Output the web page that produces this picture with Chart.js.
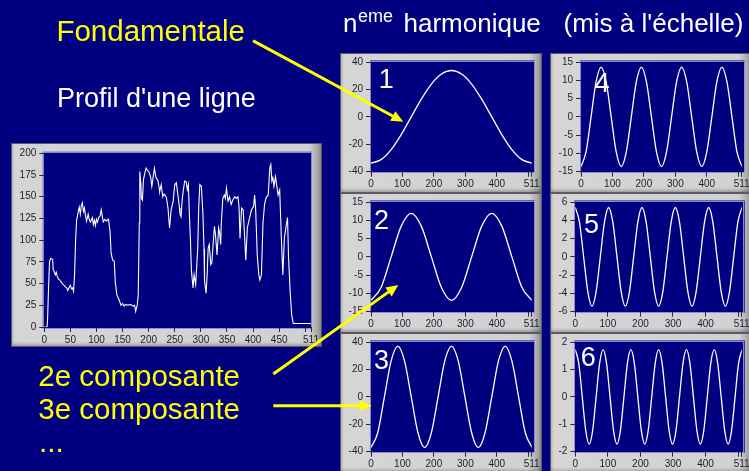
<!DOCTYPE html>
<html>
<head>
<meta charset="utf-8">
<script src="https://cdn.jsdelivr.net/npm/chart.js"></script>
<style>
  html, body { margin: 0; padding: 0; }
  body {
    width: 749px; height: 471px; overflow: hidden; position: relative;
    background: #000080;
    font-family: "Liberation Sans", Arial, sans-serif;
  }
  .frame {
    position: absolute; box-sizing: border-box;
    border: 1px solid #5a5a68;
    background: linear-gradient(to right, #bcbcbc 0px, #d5d5d5 3px, #d1d1d1 calc(100% - 12px), #ababab calc(100% - 4px), #8a8a8a 100%);
    box-shadow: inset 0 -3px 3px -1px rgba(0,0,0,0.25);
  }
  .frame canvas { position: absolute; left: -1px; top: -1px; }
  #overlay { position: absolute; left: 0; top: 0; z-index: 5; pointer-events: none; }
</style>
</head>
<body>

<div class="frame" id="fProfile"><canvas id="cProfile"></canvas></div>
<div class="frame" id="fH1"><canvas id="cH1"></canvas></div>
<div class="frame" id="fH2"><canvas id="cH2"></canvas></div>
<div class="frame" id="fH3"><canvas id="cH3"></canvas></div>
<div class="frame" id="fH4"><canvas id="cH4"></canvas></div>
<div class="frame" id="fH5"><canvas id="cH5"></canvas></div>
<div class="frame" id="fH6"><canvas id="cH6"></canvas></div>

<svg id="overlay" width="749" height="471" xmlns="http://www.w3.org/2000/svg" style="white-space:pre">
  <g font-family="Liberation Sans, Arial, sans-serif" fill="#ffffff">
    <text x="343" y="32" font-size="26">n</text>
    <text x="358" y="22.3" font-size="18">eme</text>
    <text x="403.5" y="32" font-size="26">harmonique</text>
    <text x="563.5" y="32" font-size="26">(mis à l'échelle)</text>
    <text x="57" y="107" font-size="27">Profil d'une ligne</text>
  </g>
  <g font-family="Liberation Sans, Arial, sans-serif" fill="#ffff00" font-size="29.5">
    <text x="56.4" y="41">Fondamentale</text>
    <text x="38.3" y="385.7">2e composante</text>
    <text x="38.3" y="419.3">3e composante</text>
    <text x="39" y="451.7">...</text>
  </g>
  <g font-family="Liberation Sans, Arial, sans-serif" fill="#ffffff" font-size="27">
    <text x="378.8" y="88">1</text>
    <text x="374" y="229">2</text>
    <text x="374" y="369.3">3</text>
    <text x="594.5" y="91.7">4</text>
    <text x="584" y="233">5</text>
    <text x="580.7" y="366">6</text>
  </g>
  <g id="arrows" fill="#ffff00" stroke="#ffff00"></g>
</svg>

<script>
// ---- Line profile (pixel index -> intensity) ----
const profileX = [0,5,6,8,10,12,16,17,19,21,23,25,27,30,33,36,38,41,43,45,48,50,52,54,56,58,60,62,63,65,67,69,71,73,75,77,79,81,84,86,88,90,92,94,96,98,100,102,104,107,109,111,113,116,119,123,126,128,131,134,136,139,142,144,147,150,153,156,160,165,170,173,175,178,180,182,183,185,186,188,190,193,195,198,200,202,204,206,208,211,214,216,218,220,221,224,227,229,231,234,237,240,243,245,247,250,253,256,259,260,262,264,266,269,272,274,276,278,280,282,285,287,290,292,294,296,298,301,304,306,307,310,312,314,316,319,321,323,326,328,331,334,336,338,339,342,345,347,349,352,355,358,361,365,368,371,373,375,378,381,384,386,389,393,397,401,403,405,408,411,413,416,419,422,425,429,432,434,436,438,440,443,445,448,451,454,457,460,463,466,468,471,474,477,511];
const profileY = [0,0,5,42,75,79,78,66,64,60,63,58,55,54,51,49,48,46,45,42,46,48,44,45,41,60,100,124,126,133,138,130,140,143,133,137,128,122,130,124,121,123,126,118,123,117,124,121,126,128,135,128,121,124,122,124,110,85,77,76,52,37,33,30,25,27,24,26,25,26,24,25,18,25,37,120,179,165,148,146,170,178,183,180,179,176,172,162,170,183,172,170,168,160,156,164,150,153,152,149,137,114,135,140,145,164,166,152,137,130,127,145,156,168,167,158,164,129,100,64,45,60,49,70,91,140,164,162,129,90,53,39,60,91,95,72,74,91,116,106,83,114,108,95,118,148,152,148,160,145,150,141,146,150,148,150,139,102,137,135,102,77,114,125,135,139,152,135,83,60,54,60,120,141,149,152,183,187,168,172,162,173,164,152,158,106,60,102,115,126,80,41,14,4,4];

// ---- Harmonic components, evenly sampled across the 0..512 span ----
const harm1 = [-33.8,-31.2,-23.9,-12.9,0,12.9,23.9,31.2,33.8,31.2,23.9,12.9,0,-12.9,-23.9,-31.2,-33.8];
const harm2 = [-11.9,-8.4,0,8.4,11.9,8.4,0,-8.4,-11.9,-8.4,0,8.4,11.9,8.4,0,-8.4,-11.9];
const harm3 = [-37,-26.2,0,26.2,37,26.2,0,-26.2,-37,-26.2,0,26.2,37,26.2,0,-26.2,-37,-26.2,0,26.2,37,26.2,0,-26.2,-37];
const harm4 = [-13.6,-9.6,0,9.6,13.6,9.6,0,-9.6,-13.6,-9.6,0,9.6,13.6,9.6,0,-9.6,-13.6,-9.6,0,9.6,13.6,9.6,0,-9.6,-13.6,-9.6,0,9.6,13.6,9.6,0,-9.6,-13.6];
const harm5 = [5.4,3.8,0,-3.8,-5.4,-3.8,0,3.8,5.4,3.8,0,-3.8,-5.4,-3.8,0,3.8,5.4,3.8,0,-3.8,-5.4,-3.8,0,3.8,5.4,3.8,0,-3.8,-5.4,-3.8,0,3.8,5.4,3.8,0,-3.8,-5.4,-3.8,0,3.8,5.4];
const harm6 = [1.72,1.22,0,-1.22,-1.72,-1.22,0,1.22,1.72,1.22,0,-1.22,-1.72,-1.22,0,1.22,1.72,1.22,0,-1.22,-1.72,-1.22,0,1.22,1.72,1.22,0,-1.22,-1.72,-1.22,0,1.22,1.72,1.22,0,-1.22,-1.72,-1.22,0,1.22,1.72,1.22,0,-1.22,-1.72,-1.22,0,1.22,1.72];

// ---- Axis ticks ----
const profileXTicks = [0,50,100,150,200,250,300,350,400,450,500,511];
const harmXTicks = [0,100,200,300,400,500,511];
const profileYRange = [0, 200, 25];
const harmYRanges = [[-40,40,20],[-15,15,5],[-40,40,20],[-15,15,5],[-6,6,2],[-2,2,1]];

const NAVY = '#000080';

// plot background of each graph (slightly larger than the data area)
const plotBg = {
  id: 'plotBg',
  beforeDraw(chart, args, o) {
    const a = chart.chartArea, c = chart.ctx;
    const x = a.left - o.l, y = a.top - o.t;
    const w = a.right - a.left + o.l + o.r, h = a.bottom - a.top + o.t + o.b;
    c.save();
    c.fillStyle = NAVY;
    c.fillRect(x, y, w, h);
    c.strokeStyle = 'rgba(150,150,215,0.9)';
    c.lineWidth = 1;
    c.strokeRect(Math.round(x) + 0.5, Math.round(y) + 0.5, Math.round(w) - 1, Math.round(h) - 1);
    c.restore();
  }
};

function placeFrame(id, left, top, w, h) {
  const f = document.getElementById(id);
  f.style.left = left + 'px'; f.style.top = top + 'px';
  f.style.width = w + 'px'; f.style.height = h + 'px';
}

function makeGraph(canvasId, w, h, geo, points, yRange, xTicks, smooth, bgExt) {
  const cv = document.getElementById(canvasId);
  cv.width = w; cv.height = h;
  cv.style.width = w + 'px'; cv.style.height = h + 'px';
  const tickFont = { family: '"Liberation Sans", Arial, sans-serif', size: 10 };
  return new Chart(cv, {
    type: 'line',
    data: {
      datasets: [{
        data: points,
        borderColor: '#ffffff',
        borderWidth: smooth ? 1.3 : 1.1,
        pointRadius: 0,
        fill: false,
        tension: 0,
        cubicInterpolationMode: smooth ? 'monotone' : 'default'
      }]
    },
    options: {
      responsive: false,
      animation: false,
      devicePixelRatio: 1,
      parsing: true,
      layout: { padding: { top: geo.top, right: geo.right, left: 0, bottom: 0 } },
      plugins: { legend: { display: false }, tooltip: { enabled: false }, plotBg: bgExt },
      scales: {
        x: {
          type: 'linear', min: 0, max: 511,
          afterBuildTicks: s => { s.ticks = xTicks.map(v => ({ value: v })); },
          afterFit: s => { s.height = geo.xh; },
          ticks: {
            autoSkip: false, maxRotation: 0, padding: 2, color: '#1c1c2a', font: tickFont,
            callback: v => (v === 500 ? '' : String(v))
          },
          grid: { drawOnChartArea: false, drawTicks: true, tickLength: 5, color: '#2a2a3a', lineWidth: 1 },
          border: { display: false }
        },
        y: {
          min: yRange[0], max: yRange[1],
          afterFit: s => { s.width = geo.yw; },
          ticks: { stepSize: yRange[2], padding: 3, color: '#1c1c2a', font: tickFont },
          grid: { drawOnChartArea: false, drawTicks: true, tickLength: 5, color: '#2a2a3a', lineWidth: 1 },
          border: { display: false }
        }
      }
    },
    plugins: [plotBg]
  });
}

function spread(vals) {
  const n = vals.length - 1;
  return vals.map((v, i) => ({ x: i * 512 / n, y: v }));
}

// profile graph
placeFrame('fProfile', 11, 143, 311, 204);
const profilePts = profileX.map((x, i) => ({ x: x, y: profileY[i] }));
makeGraph('cProfile', 311, 204, { yw: 33.3, right: 11, top: 10.3, xh: 20 },
  profilePts, profileYRange, profileXTicks, false, { l: 1.5, r: 1, t: 1.5, b: 1.5 });

// harmonic graphs: two columns, three rows
const harmonics = [harm1, harm2, harm3, harm4, harm5, harm6];
const colLeft = [340, 550];
const rowTop = [53, 193, 333];
harmonics.forEach((vals, k) => {
  const col = k < 3 ? 0 : 1, row = k % 3;
  const fid = 'fH' + (k + 1), cid = 'cH' + (k + 1);
  const h = row === 2 ? 140 : 140;
  placeFrame(fid, colLeft[col], rowTop[row], 202, h);
  const yw = (k >= 4) ? 25.3 : 31;
  makeGraph(cid, 202, h, { yw: yw, right: 10.3, top: 8.7, xh: 21.3 },
    spread(vals), harmYRanges[k].slice(0, 3), harmXTicks, true, { l: 1, r: 3, t: 1.5, b: 1 });
});

// yellow pointer arrows
const NS = 'http://www.w3.org/2000/svg';
const arrowsG = document.getElementById('arrows');
function arrow(x1, y1, x2, y2) {
  const dx = x2 - x1, dy = y2 - y1, L = Math.hypot(dx, dy);
  const ux = dx / L, uy = dy / L, px = -uy, py = ux;
  const head = 12, half = 5.5;
  const bx = x2 - ux * head, by = y2 - uy * head;
  const ln = document.createElementNS(NS, 'line');
  ln.setAttribute('x1', x1); ln.setAttribute('y1', y1);
  ln.setAttribute('x2', bx + ux * 1); ln.setAttribute('y2', by + uy * 1);
  ln.setAttribute('stroke-width', 3);
  arrowsG.appendChild(ln);
  const pg = document.createElementNS(NS, 'polygon');
  pg.setAttribute('points', `${x2},${y2} ${bx + px * half},${by + py * half} ${bx - px * half},${by - py * half}`);
  pg.setAttribute('stroke', 'none');
  arrowsG.appendChild(pg);
}
arrow(253, 40.7, 403.3, 121.7);
arrow(273.3, 374, 398.3, 285);
arrow(273.3, 405.7, 371.7, 405.7);
</script>
</body>
</html>
